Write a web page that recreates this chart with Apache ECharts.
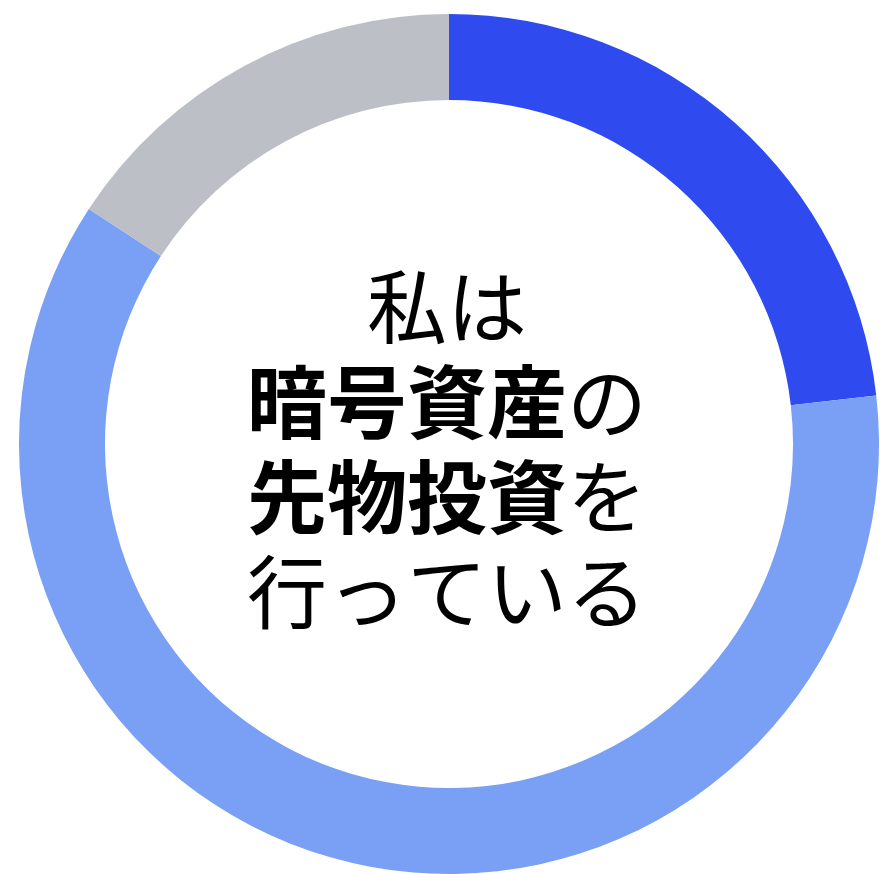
<!DOCTYPE html>
<html>
<head>
<meta charset="utf-8">
<style>
html,body{margin:0;padding:0;background:#fff;}
#chart{width:880px;height:874px;}
</style>
<script src="https://cdn.jsdelivr.net/npm/echarts@6/dist/echarts.min.js"></script>
</head>
<body>
<div id="chart"></div>
<script>
var categories = ['Segment 1', 'Segment 2', 'Segment 3'];
var values = [23.2, 61.0, 15.8];
var colors = ['#2F4BF0', '#7AA0F5', '#BCBFC6'];

var chart = echarts.init(document.getElementById('chart'));
var data = categories.map(function (c, i) {
  return { name: c, value: values[i], itemStyle: { color: colors[i] } };
});
chart.setOption({
  animation: false,
  series: [{
    type: 'pie',
    center: [449, 444],
    radius: [344, 430],
    startAngle: 90,
    clockwise: true,
    label: { show: false },
    labelLine: { show: false },
    emphasis: { disabled: true },
    itemStyle: { borderWidth: 0 },
    data: data
  }],
  graphic: [{
    type: 'text',
    x: 447,
    y: 449,
    style: {
      text: '{n|私は}\n{b|暗号資産}{n|の}\n{b|先物投資}{n|を}\n{n|行っている}',
      align: 'center',
      verticalAlign: 'middle',
      rich: {
        n: { fontFamily: 'Noto Sans CJK JP', fontSize: 80, fontWeight: 'normal', lineHeight: 95, fill: '#000', color: '#000' },
        b: { fontFamily: 'Noto Sans CJK JP', fontSize: 80, fontWeight: 'bold', lineHeight: 95, fill: '#000', color: '#000' }
      }
    }
  }]
});
</script>
</body>
</html>
